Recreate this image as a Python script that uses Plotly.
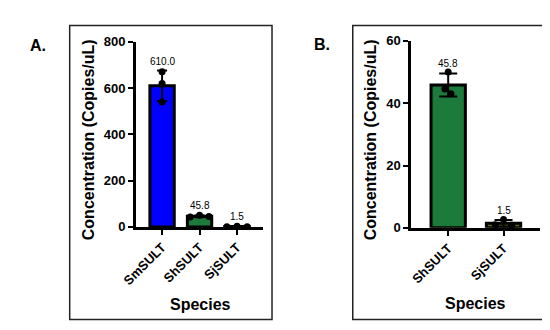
import numpy as np
import plotly.graph_objects as go

# ---- data ----
species_a = ["SmSULT", "ShSULT", "SjSULT"]
species_b = ["ShSULT", "SjSULT"]
sm_reps = [670, 620, 540]
sh_reps = [50, 44.5, 43]
sj_reps = [2.7, 1.0, 0.8]
reps_a = [sm_reps, sh_reps, sj_reps]
reps_b = [sh_reps, sj_reps]
colors_a = ["#0000FF", "#1C7A3A", "#1C7A3A"]
colors_b = ["#1C7A3A", "#5a6a2a"]
yticks_a = [0, 200, 400, 600, 800]
yticks_b = [0, 20, 40, 60]

# horizontal spread of replicate dots (style)
spread_a = [[0, 0, 0], [0, 0.25, -0.25], [0, 0.27, -0.27]]
spread_b = [[0, -0.06, 0.05], [0, -0.15, 0.15]]

W, H = 550, 330
FONT = "Arial, Liberation Sans, sans-serif"


def px_x(p):
    return p / W


def px_y(p):
    return 1 - p / H


fig = go.Figure()


def add_panel(reps, cats, colors, spread, xa, ya, bw, lw):
    means = [float(np.mean(r)) for r in reps]
    sds = [float(np.std(r, ddof=1)) for r in reps]
    idx = list(range(len(cats)))
    fig.add_trace(go.Bar(
        x=idx, y=means, width=bw, xaxis=xa, yaxis=ya,
        marker=dict(color=colors, line=dict(color="black", width=lw)),
        error_y=dict(type="data", array=sds, visible=True, color="black",
                     thickness=2, width=5 if xa == "x" else 9),
        showlegend=False, hoverinfo="skip"))
    xs, ys = [], []
    for i, r in enumerate(reps):
        for j, v in enumerate(r):
            xs.append(i + spread[i][j])
            ys.append(v)
    fig.add_trace(go.Scatter(
        x=xs, y=ys, mode="markers", xaxis=xa, yaxis=ya,
        marker=dict(color="black", size=7), showlegend=False, hoverinfo="skip"))
    for i in idx:
        fig.add_annotation(
            x=i, y=means[i] + sds[i], xref=xa, yref=ya, text=f"{means[i]:.1f}",
            showarrow=False, yanchor="bottom", yshift=2,
            font=dict(family=FONT, size=10, color="black"))
    return idx


idx_a = add_panel(reps_a, species_a, colors_a, spread_a, "x", "y", 0.65, 3)
idx_b = add_panel(reps_b, species_b, colors_b, spread_b, "x2", "y2", 0.62, 3)

axis_common = dict(
    showline=True, linecolor="black", linewidth=2.5, ticks="outside",
    ticklen=5, tickwidth=2, tickcolor="black", showgrid=False, zeroline=False,
    tickfont=dict(family=FONT, size=13, color="black", weight="bold"))

fig.update_layout(
    width=W, height=H, margin=dict(l=0, r=0, t=0, b=0),
    paper_bgcolor="white", plot_bgcolor="white",
    xaxis=dict(domain=[px_x(116), px_x(247)], range=[-0.7, 2.7],
               tickvals=idx_a, ticktext=species_a, tickangle=-45,
               anchor="y", **axis_common),
    yaxis=dict(domain=[px_y(222), px_y(28)], range=[0, 800],
               tickvals=yticks_a, anchor="x", **axis_common),
    xaxis2=dict(domain=[px_x(399), px_x(531)], range=[-0.67, 1.65],
                tickvals=idx_b, ticktext=species_b, tickangle=-45,
                anchor="y2", **axis_common),
    yaxis2=dict(domain=[px_y(223), px_y(27)], range=[0, 60],
                tickvals=yticks_b, anchor="x2", **axis_common),
)

# panel boxes
for (x0, y0, x1, y1) in [(48, 11, 256, 319), (339, 11, 541, 319)]:
    fig.add_shape(type="rect", xref="paper", yref="paper",
                  x0=px_x(x0), x1=px_x(x1), y0=px_y(y1), y1=px_y(y0),
                  line=dict(color="#222222", width=1.5))

title_font = dict(family=FONT, size=16, color="black", weight="bold")
for txt, x, y in [("Species", 182, 303), ("Species", 465, 302)]:
    fig.add_annotation(text=txt, x=px_x(x), y=px_y(y), xref="paper", yref="paper",
                       showarrow=False, font=title_font, xanchor="center", yanchor="middle")
for x in [67, 357]:
    fig.add_annotation(text="Concentration (Copies/uL)", x=px_x(x), y=px_y(131),
                       xref="paper", yref="paper", showarrow=False, textangle=-90,
                       font=title_font, xanchor="center", yanchor="middle")
for txt, x, y in [("A.", 15, 32), ("B.", 307, 31)]:
    fig.add_annotation(text=txt, x=px_x(x), y=px_y(y), xref="paper", yref="paper",
                       showarrow=False, font=dict(family=FONT, size=16, color="black", weight="bold"),
                       xanchor="center", yanchor="middle")

fig.write_html("out.html")
